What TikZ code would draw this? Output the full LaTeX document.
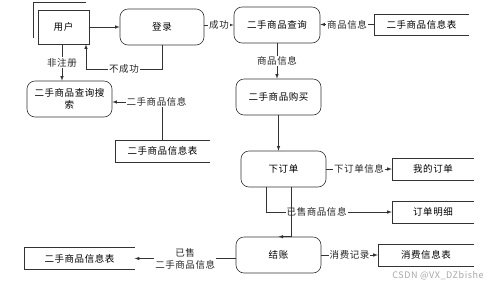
\documentclass[tikz,border=0pt]{standalone}
\usepackage{fontspec}
\setmainfont[LetterSpace=6]{Noto Sans CJK SC}
\usepackage{tikz}
\usetikzlibrary{arrows, positioning, calc}
\tikzstyle{line} = [draw=black!80, line width=0.6pt]
\tikzstyle{process} = [rectangle, rounded corners=8pt, minimum width=85pt, minimum height=36pt, text centered, line]
\tikzstyle{entity} = [rectangle, minimum width=51pt, minimum height=34pt, text centered, line]
\tikzstyle{store} = [rectangle, minimum height=22pt, text centered]
\tikzstyle{lbl} = [fill=white, inner sep=1pt, text=black!85]
\tikzstyle{arrow} = [line, ->, >=latex]

\begin{document}
\begin{tikzpicture}[x=1pt, y=-1pt, font=\fontsize{9.5}{12}\selectfont]
  \useasboundingbox (0,0) rectangle (499,285);
  % processes and the user
  \node (user) [entity] at (63.5,27) {用户};
  \node (login) [process, minimum width=84pt] at (162,27) {登录};
  \node (search) [process, align=center] at (69.5,99) {二手商品查询搜\\索};
  \node (query) [process, minimum width=86pt] at (277,25) {二手商品查询};
  \node (buy) [process] at (278.5,97) {二手商品购买};
  \node (order) [process] at (283.5,169) {下订单};
  \node (pay) [process] at (278.5,255) {结账};

  % data stores
  \node (goodsA) [store, minimum width=95pt] at (162.5,151) {二手商品信息表};
  \node (goodsB) [store, minimum width=95pt, minimum height=21pt] at (421.5,24.5) {二手商品信息表};
  \node (myorder) [store, minimum width=82pt] at (433,169) {我的订单};
  \node (detail) [store, minimum width=82pt] at (433,212) {订单明细};
  \node (spend) [store, minimum width=96pt] at (426,255) {消费信息表};
  \node (goodsC) [store, minimum width=110pt] at (79.5,258.5) {二手商品信息表};
  \foreach \s in {goodsA, goodsB, myorder, detail, spend, goodsC}
    \draw[line] (\s.north east) -- (\s.north west) -- (\s.south west) -- (\s.south east);

  % second outline of the user
  \draw[line] ([xshift=-3pt,yshift=7.5pt]user.north east) -| ([xshift=-4.7pt,yshift=6pt]user.south west);

  \draw[arrow] (user) -- (login);
  \draw[arrow] (login.south) -- ++(0,24) -| node[lbl, pos=0.25] {不成功} ([xshift=22.5pt]user.south);
  \draw[arrow] ([xshift=-1.5pt]user.south) -- node[lbl] {非注册} ([xshift=-1.5pt]user.south |- search.north);
  \draw[arrow] (goodsA.north) |- node[lbl, pos=0.56] {二手商品信息} ([yshift=-3pt]search.east);
  \draw[arrow] (query.west -| login.east) -- node[lbl] {成功} (query.west);
  \draw[arrow] (goodsB.west) -- node[lbl] {商品信息} (goodsB.west -| query.east);
  \draw[arrow] (query.south) -- node[lbl] {商品信息} (query.south |- buy.north);
  \draw[arrow] (buy.south) -- (buy.south |- order.north);
  \draw[arrow] (order.east) -- node[lbl] {下订单信息} (myorder.west);
  \draw[arrow] ([xshift=-17pt]order.south) |- node[lbl, pos=0.7] {已售商品信息} (detail.west);
  \draw[arrow] ([xshift=7.5pt]order.south) |- (pay.north);
  \draw[arrow] (pay.east) -- node[lbl] {消费记录} (spend.west);
  \draw[arrow] (pay.west |- goodsC.east) -- node[lbl, align=center, fill=white] {已售\\二手商品信息} (goodsC.east);

  \node (mark) [text=black!35, font=\fontsize{9}{10}\selectfont] at (438,276) {CSDN @VX\_DZbishe};
\end{tikzpicture}
\end{document}
